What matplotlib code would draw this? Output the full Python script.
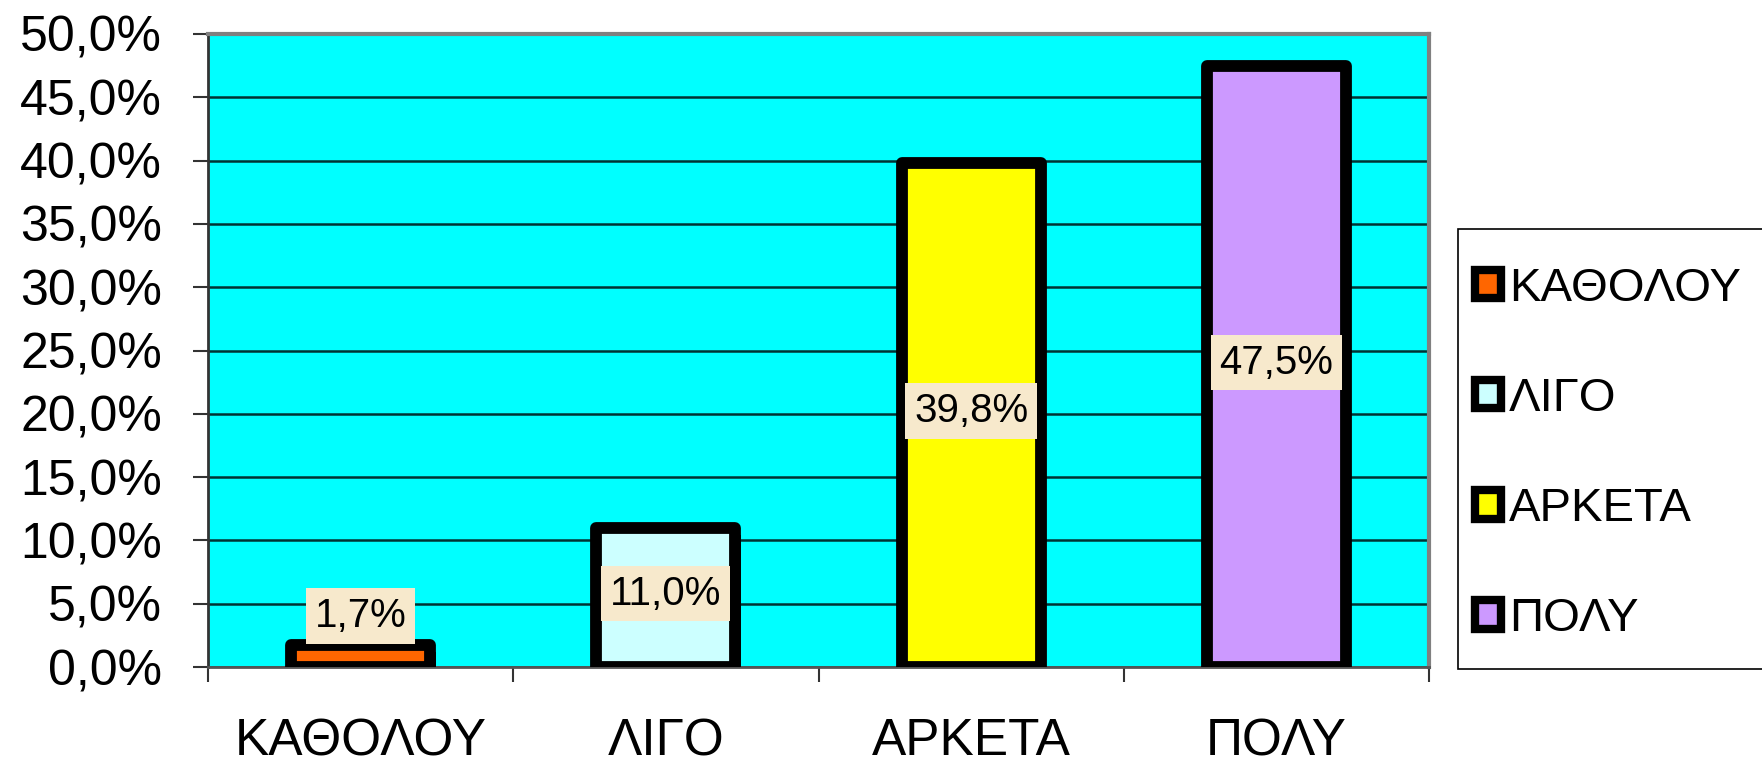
import matplotlib.pyplot as plt
import matplotlib.patheffects as pe
from matplotlib.patches import Patch, Rectangle
from matplotlib.ticker import FuncFormatter, MultipleLocator

plt.rcParams['font.family'] = ['Liberation Sans', 'DejaVu Sans']

# data
categories = ["ΚΑΘΟΛΟΥ", "ΛΙΓΟ", "ΑΡΚΕΤΑ", "ΠΟΛΥ"]
values = [1.7, 11.0, 39.8, 47.5]
colors = ["#FF6600", "#CCFFFF", "#FFFF00", "#CC99FF"]

fig = plt.figure(figsize=(17.62, 7.64), dpi=100)
ax = fig.add_axes([208 / 1762, 1 - 667 / 764, (1429 - 208) / 1762, (667 - 34) / 764])
ax.set_facecolor("#00FFFF")

x = list(range(len(categories)))
shadow = [pe.SimplePatchShadow(offset=(4, -5), shadow_rgbFace="black", alpha=1.0), pe.Normal()]
bars = ax.bar(x, values, width=0.455, color=colors, edgecolor="black", linewidth=8.5,
              joinstyle="round", zorder=3)
for b in bars:
    b.set_path_effects(shadow)

# value labels
for xi, v in zip(x, values):
    y = v / 2 + 0.3 if v > 5 else v + 2.3
    ax.text(xi, y, f"{v:.1f}%".replace(".", ","), ha="center", va="center", fontsize=29,
            zorder=5,
            bbox=dict(boxstyle="square,pad=0.22", facecolor="#F7E9CC", edgecolor="none"))

ax.set_xlim(-0.5, len(categories) - 0.5)
ax.set_ylim(0, 50)
ax.yaxis.set_major_locator(MultipleLocator(5))
ax.yaxis.set_major_formatter(FuncFormatter(lambda v, p: f"{v:.1f}%".replace(".", ",")))
ax.grid(axis="y", color="#003333", linewidth=1.8, zorder=1)
ax.set_axisbelow(True)

ax.set_xticks(x)
ax.set_xticklabels(categories, fontsize=37)
ax.set_xticks([i - 0.5 for i in range(len(categories) + 1)], minor=True)
ax.tick_params(axis="x", which="major", length=0, pad=36)
ax.tick_params(axis="x", which="minor", length=11, width=1.5, color="#333333")
ax.tick_params(axis="y", labelsize=36, length=11, width=1.5, color="#333333", pad=22)

for s in ["top", "right"]:
    ax.spines[s].set_color("#808080")
    ax.spines[s].set_linewidth(3)
ax.spines["left"].set_color("#333333")
ax.spines["left"].set_linewidth(2)
ax.spines["bottom"].set_color("#555555")
ax.spines["bottom"].set_linewidth(2)

# legend: frame drawn separately so padding can differ in x and y
fig.patches.append(Rectangle((1458 / 1762, 1 - 669 / 764), 310 / 1762, 440 / 764,
                             transform=fig.transFigure, facecolor="white",
                             edgecolor="black", linewidth=1.2, zorder=0))
handles = [Patch(facecolor=c, edgecolor="black", linewidth=6, joinstyle="round") for c in colors]
leg = fig.legend(handles, categories, loc="center left",
                 bbox_to_anchor=(1458 / 1762, 1 - 454 / 764),
                 fontsize=34, frameon=False,
                 handlelength=0.55, handleheight=0.55, handletextpad=0.18,
                 labelspacing=1.4, borderpad=0.35, borderaxespad=0)

fig.savefig("out.png", dpi=100)
